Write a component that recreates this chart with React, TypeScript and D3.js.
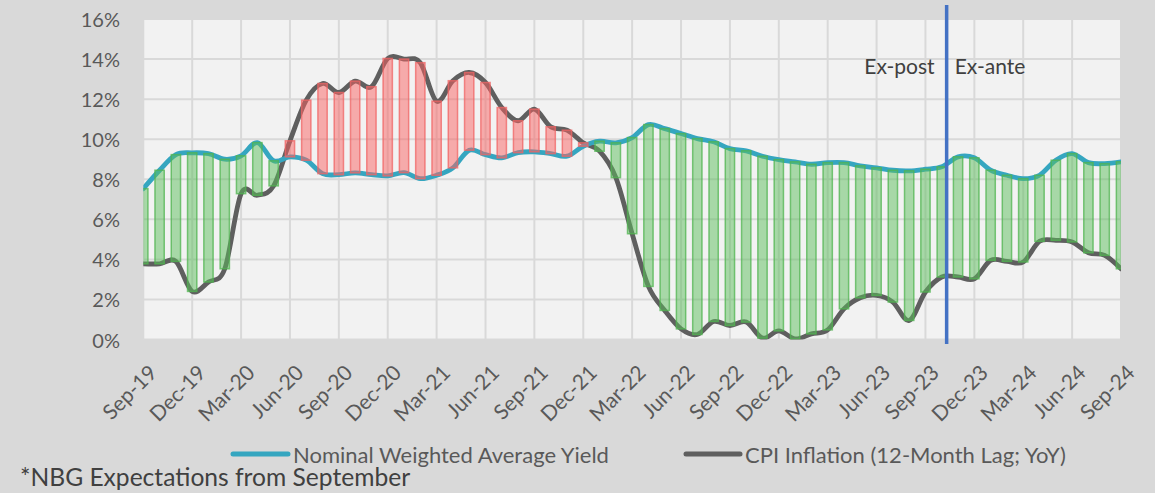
import * as d3 from 'd3';

// monthly observations, Sep-19 .. Sep-24
const startMonth = new Date(2019, 8, 1);
const endMonth = new Date(2024, 8, 1);

// Nominal Weighted Average Yield, %
const yieldValues = [
  7.53, 8.45, 9.23, 9.32, 9.28, 9.0, 9.17, 9.83, 8.92, 9.12, 8.95, 8.28,
  8.23, 8.32, 8.23, 8.17, 8.33, 8.03, 8.2, 8.57, 9.45, 9.23, 9.07, 9.33,
  9.37, 9.28, 9.15, 9.65, 9.9, 9.82, 10.08, 10.73, 10.53, 10.28, 10.03, 9.87,
  9.53, 9.42, 9.15, 8.98, 8.87, 8.75, 8.83, 8.83, 8.67, 8.57, 8.45, 8.42,
  8.5, 8.62, 9.12, 9.07, 8.45, 8.2, 8.03, 8.2, 8.95, 9.28, 8.83, 8.78, 8.87,
];

// CPI Inflation (12-month lag; YoY), %
const cpiValues = [
  3.78, 3.78, 3.9, 2.4, 2.87, 3.53, 7.28, 7.2, 7.67, 9.92, 11.95, 12.78,
  12.33, 12.9, 12.62, 14.03, 14.0, 13.82, 11.9, 12.92, 13.33, 12.83, 11.58, 10.92,
  11.5, 10.62, 10.45, 9.82, 9.4, 8.08, 5.28, 2.65, 1.45, 0.53, 0.25, 0.9,
  0.7, 0.87, 0.07, 0.43, 0.03, 0.28, 0.48, 1.53, 2.08, 2.2, 1.87, 0.95,
  2.37, 3.12, 3.12, 3.03, 3.95, 3.9, 3.87, 4.9, 4.95, 4.87, 4.33, 4.2, 3.53,
];

const yTicks = [0, 2, 4, 6, 8, 10, 12, 14, 16];
const seriesNames = ['Nominal Weighted Average Yield', 'CPI Inflation (12-Month Lag; YoY)'];
const splitMonth = 49.3; // ex-post / ex-ante divider, in months from Sep-19
const footnote = '*NBG Expectations from September';

const W = 1155;
const H = 493;
const left = 143.3;
const right = 1121;
const top = 19;
const bottom = 339.5;

const font = "Lato, 'Open Sans', sans-serif";
const teal = '#35a6c0';
const grey = '#5f5f5f';

export default function App() {
  const months = d3.timeMonth.range(startMonth, d3.timeMonth.offset(endMonth, 1));
  const fmt = d3.timeFormat('%b-%y');

  const x = d3.scaleLinear().domain([0, months.length - 1]).range([left, right]);
  const y = d3.scaleLinear().domain([0, 16]).range([bottom, top]);
  const step = x(1) - x(0);
  const barW = step * 0.57;

  const line = d3
    .line<number>()
    .x((_, i) => x(i))
    .y((d) => y(d))
    .curve(d3.curveCardinal.tension(0));

  const quarterIdx = months.map((_, i) => i).filter((i) => i % 3 === 0);

  return (
    <div style={{ position: 'fixed', left: 0, top: 0 }}>
      <svg width={W} height={H} style={{ display: 'block' }}>
        <defs>
          <clipPath id="plotClip">
            <rect x={left} y={top - 10} width={right - left} height={bottom - top + 10} />
          </clipPath>
        </defs>
        <rect width={W} height={H} fill="#d9d9d9" />
        <rect x={left} y={top} width={right - left} height={bottom - top} fill="#f2f2f2" />

        {/* grid */}
        <g stroke="#d9d9d9" strokeWidth={2}>
          {yTicks.map((t) => (
            <line key={'h' + t} x1={left} x2={right} y1={y(t)} y2={y(t)} />
          ))}
          {quarterIdx.map((i) => (
            <line key={'v' + i} x1={x(i)} x2={x(i)} y1={top} y2={bottom} />
          ))}
        </g>

        {/* y axis labels */}
        <g fontFamily={font} fontSize={20} fill="#595959" textAnchor="end">
          {yTicks.map((t) => (
            <text key={t} x={120} y={y(t)} dominantBaseline="central">
              {t}%
            </text>
          ))}
        </g>

        {/* x axis labels */}
        <g fontFamily={font} fontSize={21} fill="#595959" textAnchor="end">
          {quarterIdx.map((i) => (
            <text
              key={i}
              transform={`translate(${x(i) + 9},${368}) rotate(-45)`}
              dominantBaseline="central"
            >
              {fmt(months[i])}
            </text>
          ))}
        </g>

        {/* series lines */}
        <g clipPath="url(#plotClip)" fill="none" strokeLinecap="round" strokeLinejoin="round">
          <path d={line(cpiValues) ?? ''} stroke={grey} strokeWidth={4.8} />
          <path d={line(yieldValues) ?? ''} stroke={teal} strokeWidth={4.8} />
        </g>

        {/* spread bars */}
        <g clipPath="url(#plotClip)">
          {yieldValues.map((v, i) => {
            const c = cpiValues[i];
            const positive = v >= c;
            return (
              <rect
                key={i}
                x={x(i) - barW / 2}
                y={y(Math.max(v, c))}
                width={barW}
                height={Math.abs(y(v) - y(c))}
                fill={positive ? 'rgba(92,190,92,0.5)' : 'rgba(250,98,98,0.5)'}
                stroke={positive ? 'rgba(80,180,80,0.75)' : 'rgba(240,100,100,0.75)'}
                strokeWidth={1.5}
              />
            );
          })}
        </g>

        {/* ex-post / ex-ante divider */}
        <line x1={x(splitMonth)} x2={x(splitMonth)} y1={5} y2={344} stroke="#4472c4" strokeWidth={3.5} />
        <g fontFamily={font} fontSize={21} fill="#404040" dominantBaseline="central">
          <text x={x(splitMonth) - 12} y={65} textAnchor="end">
            Ex-post
          </text>
          <text x={x(splitMonth) + 8} y={65}>
            Ex-ante
          </text>
        </g>

        {/* legend */}
        <g fontFamily={font} fontSize={22} fill="#595959" dominantBaseline="central">
          <line x1={233} x2={288} y1={454} y2={454} stroke={teal} strokeWidth={5} strokeLinecap="round" />
          <text x={293} y={454}>
            {seriesNames[0]}
          </text>
          <line x1={686} x2={740} y1={454} y2={454} stroke={grey} strokeWidth={5} strokeLinecap="round" />
          <text x={745} y={454}>
            {seriesNames[1]}
          </text>
        </g>

        <text x={20} y={476} fontFamily={font} fontSize={24.6} fill="#404040" dominantBaseline="central">
          {footnote}
        </text>
      </svg>
    </div>
  );
}
